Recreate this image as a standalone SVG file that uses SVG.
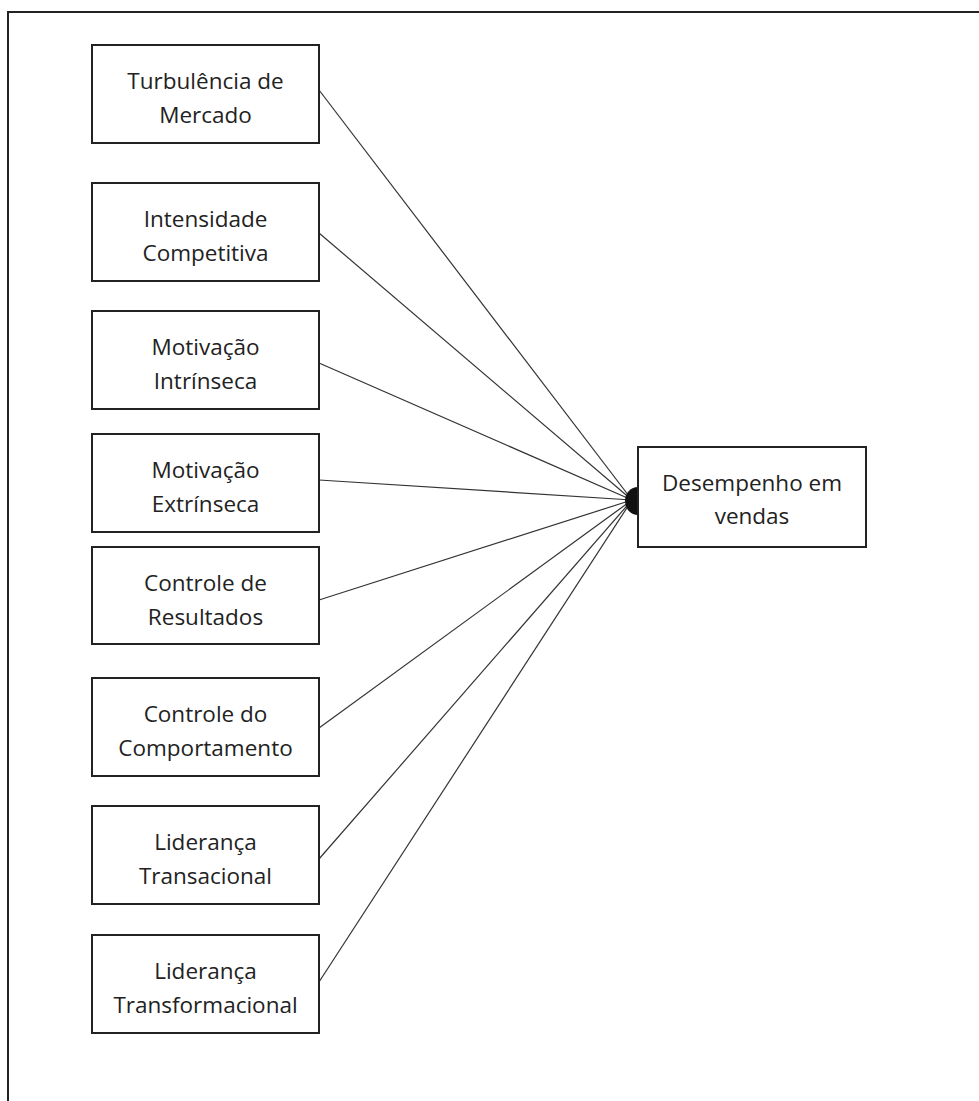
<svg xmlns="http://www.w3.org/2000/svg" width="979" height="1101" viewBox="0 0 979 1101">
<style>
.box{fill:#fff;stroke:#222;stroke-width:2}
.lbl{font-family:"Open Sans","Liberation Sans",sans-serif;font-size:22.5px;fill:#222;text-anchor:middle}
.conn{stroke:#333;stroke-width:1.2;fill:none}
</style>
<rect width="979" height="1101" fill="#fff"/>
<path d="M8 1101 V12 H979" fill="none" stroke="#222" stroke-width="2"/>
<g id="connectors">
<line class="conn" x1="319" y1="90" x2="632" y2="500"/>
<line class="conn" x1="319" y1="233" x2="632" y2="500"/>
<line class="conn" x1="319" y1="363" x2="632" y2="500"/>
<line class="conn" x1="319" y1="480" x2="632" y2="500"/>
<line class="conn" x1="319" y1="600" x2="632" y2="500"/>
<line class="conn" x1="319" y1="728" x2="632" y2="500"/>
<line class="conn" x1="319" y1="859" x2="632" y2="500"/>
<line class="conn" x1="319" y1="982" x2="632" y2="500"/>
<path d="M638 487 A13 14 0 0 0 638 515 Z" fill="#111"/>
</g>
<g id="n1"><rect class="box" x="92" y="45" width="227" height="98"/><text class="lbl" x="205.5" y="89">Turbulência de</text><text class="lbl" x="205.5" y="123">Mercado</text></g>
<g id="n2"><rect class="box" x="92" y="183" width="227" height="98"/><text class="lbl" x="205.5" y="227">Intensidade</text><text class="lbl" x="205.5" y="261">Competitiva</text></g>
<g id="n3"><rect class="box" x="92" y="311" width="227" height="98"/><text class="lbl" x="205.5" y="355">Motivação</text><text class="lbl" x="205.5" y="389">Intrínseca</text></g>
<g id="n4"><rect class="box" x="92" y="434" width="227" height="98"/><text class="lbl" x="205.5" y="478">Motivação</text><text class="lbl" x="205.5" y="512">Extrínseca</text></g>
<g id="n5"><rect class="box" x="92" y="547" width="227" height="97"/><text class="lbl" x="205.5" y="591">Controle de</text><text class="lbl" x="205.5" y="625">Resultados</text></g>
<g id="n6"><rect class="box" x="92" y="678" width="227" height="98"/><text class="lbl" x="205.5" y="722">Controle do</text><text class="lbl" x="205.5" y="756">Comportamento</text></g>
<g id="n7"><rect class="box" x="92" y="806" width="227" height="98"/><text class="lbl" x="205.5" y="850">Liderança</text><text class="lbl" x="205.5" y="884">Transacional</text></g>
<g id="n8"><rect class="box" x="92" y="935" width="227" height="98"/><text class="lbl" x="205.5" y="979">Liderança</text><text class="lbl" x="205.5" y="1013">Transformacional</text></g>
<g id="target"><rect class="box" x="638" y="447" width="228" height="100"/><text class="lbl" x="752" y="491">Desempenho em</text><text class="lbl" x="752" y="524">vendas</text></g>
</svg>
